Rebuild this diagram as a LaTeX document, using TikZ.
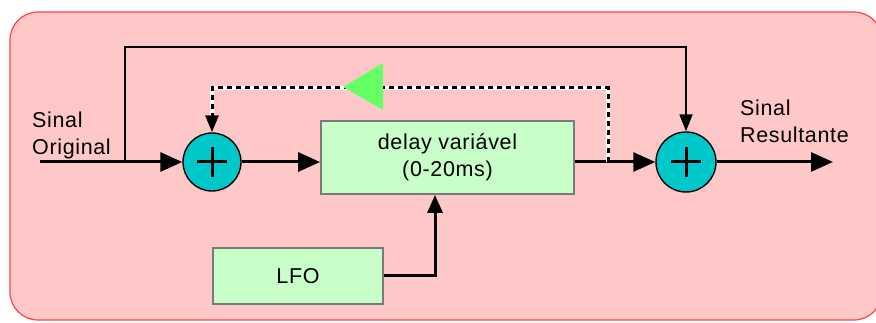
\documentclass[tikz,border=0pt]{standalone}
\usepackage{fontspec}
\setmainfont{Liberation Sans}[LetterSpace=3]
\usetikzlibrary{arrows.meta,calc}
\definecolor{bgpink}{HTML}{FFC8C8}
\definecolor{bgred}{HTML}{FF4040}
\definecolor{boxgreen}{HTML}{C8FFC8}
\definecolor{boxgray}{HTML}{7A7A7A}
\definecolor{sumteal}{HTML}{00C8C8}
\definecolor{trigreen}{HTML}{66FF66}
\tikzset{
  txt/.style={font=\fontsize{21.5}{27}\selectfont, inner sep=0pt, text=black},
  blockbox/.style={draw=boxgray, line width=1.8pt, fill=boxgreen, txt},
  sumnode/.style={circle, draw=black, line width=1.4pt, fill=sumteal, minimum size=#1, inner sep=0pt},
  mainline/.style={draw=black, line width=3pt, -{Triangle[length=22pt,width=19pt]}},
  thinline/.style={draw=black, line width=1.8pt},
  smalltip/.style={-{Triangle[length=17pt,width=13pt]}},
}
\begin{document}
\begin{tikzpicture}[x=1pt,y=-1pt]
\useasboundingbox (0,0) rectangle (876,323);
\fill[white] (0,0) rectangle (876,323);
\draw[bgred, fill=bgpink, line width=1.2pt, rounded corners=28pt] (10,12) rectangle (882,320);

% nodes
\node[sumnode=58pt] (sum1) at (212,162) {};
\node[sumnode=60pt] (sum2) at (686,162) {};
\node[blockbox, minimum width=253pt, minimum height=73pt, align=center] (delay) at (447.5,157.5) {delay variável\\(0-20ms)};
\node[blockbox, minimum width=170pt, minimum height=56pt] (lfo) at (298,276) {LFO};
\node[txt, anchor=west, align=left] (inlbl) at (32,135) {Sinal\\Original};
\node[txt, anchor=west, align=left] (outlbl) at (740,121.5) {Sinal\\Resultante};

\coordinate (in) at (40,162);
\coordinate (out) at (833,162);
\coordinate (tap) at (125,162);
\coordinate (topy) at (0,47);
\coordinate (dtap) at (608,162);
\coordinate (dashy) at (0,88);
\coordinate (lx) at (435,0);

% plus signs
\draw[line width=3pt] (sum1.center) ++(-15,0) -- ++(30,0) (sum1.center) ++(0,-15) -- ++(0,30);
\draw[line width=3pt] (sum2.center) ++(-15,0) -- ++(30,0) (sum2.center) ++(0,-15) -- ++(0,30);

% connectors
\draw[mainline] (in) -- (sum1.west);
\draw[mainline] (sum1.east) -- (sum1.east -| delay.west);
\draw[mainline] (sum2.west -| delay.east) -- (sum2.west);
\draw[mainline] (sum2.east) -- (out);
\draw[thinline, smalltip] (tap) -- (tap |- topy) -| (sum2.north);
\draw[mainline, -{Triangle[length=18pt,width=15pt]}] (lfo.east) -| (lx |- delay.south);

% dashed feedback
\draw[white, line width=3.2pt] (dtap) -- (dtap |- dashy) -| ($(sum1.north)+(0,-14)$);
\draw[black, line width=3pt, dash pattern=on 5pt off 4pt, -{Triangle[length=17pt,width=13pt]}] (dtap) -- (dtap |- dashy) -| (sum1.north);

% green triangle
\fill[trigreen] (343,87) -- (383,63) -- (383,110) -- cycle;
\end{tikzpicture}
\end{document}
